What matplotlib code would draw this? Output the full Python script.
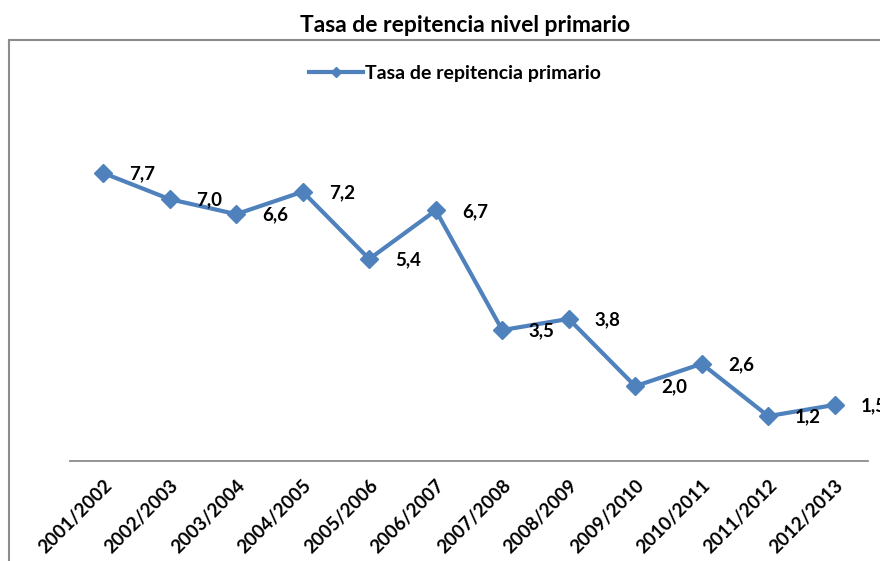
import matplotlib
matplotlib.use("Agg")
import matplotlib.pyplot as plt
from matplotlib.lines import Line2D

# datos
periodos = ['2001/2002', '2002/2003', '2003/2004', '2004/2005', '2005/2006', '2006/2007',
            '2007/2008', '2008/2009', '2009/2010', '2010/2011', '2011/2012', '2012/2013']
tasa_primario = [7.7, 7.0, 6.6, 7.2, 5.4, 6.7, 3.5, 3.8, 2.0, 2.6, 1.2, 1.5]

azul = '#4F81BD'
gris = '#8C8C8C'

plt.rcParams['font.family'] = ['Lato', 'DejaVu Sans']

W, H = 880, 561
fig = plt.figure(figsize=(W / 100, H / 100), dpi=100)
ax = fig.add_axes([70 / W, (H - 461) / H, 798 / W, 0.6])

x = list(range(len(periodos)))
ax.plot(x, tasa_primario, color=azul, lw=3, marker='D', ms=9.5,
        label='Tasa de repitencia primario')

# etiquetas de datos a la derecha de cada punto
for xi, v in zip(x, tasa_primario):
    ax.annotate(f'{v:.1f}'.replace('.', ','), (xi, v), xytext=(39, -1),
                textcoords='offset pixels', ha='center', va='center',
                fontsize=13.5, fontweight='bold', annotation_clip=False)

ax.set_xlim(-0.5, len(periodos) - 0.5)
ax.set_ylim(0, 9)
ax.set_xticks(x)
ax.set_xticklabels(periodos, rotation=45, ha='right', rotation_mode='anchor',
                   fontsize=13.5, fontweight='bold')
ax.tick_params(axis='x', length=0, pad=11)
ax.set_yticks([])
for s in ['left', 'right', 'top']:
    ax.spines[s].set_visible(False)
ax.spines['bottom'].set_color(gris)
ax.spines['bottom'].set_linewidth(1.3)

# marco del area del grafico
fig.add_artist(Line2D([9 / W, 9 / W], [0, (H - 40) / H], color=gris, lw=1.5))
fig.add_artist(Line2D([9 / W, 1], [(H - 40) / H, (H - 40) / H], color=gris, lw=1.5))

fig.text(465 / W, (H - 25) / H, 'Tasa de repitencia nivel primario',
         ha='center', va='center', fontsize=16.5, fontweight='bold')
fig.legend(loc='center', bbox_to_anchor=(455 / W, (H - 73) / H), frameon=False,
           prop={'size': 14, 'weight': 'bold'}, handlelength=2.8, handletextpad=0.1,
           markerscale=0.5)

fig.savefig('out.png', dpi=100)
